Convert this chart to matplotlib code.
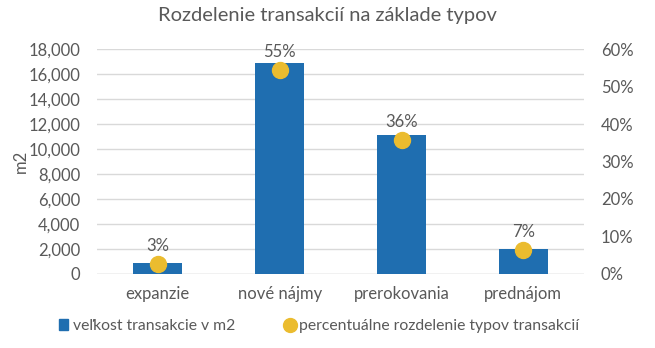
import matplotlib.pyplot as plt
from matplotlib.ticker import FuncFormatter, PercentFormatter
from matplotlib.lines import Line2D
from matplotlib.patches import Patch

categories = ["expanzie", "nové nájmy", "prerokovania", "prednájom"]
size_m2 = [880, 16900, 11100, 2030]
share = [0.027, 0.545, 0.358, 0.065]
share_labels = ["3%", "55%", "36%", "7%"]

plt.rcParams['font.family'] = ['Lato', 'DejaVu Sans']
txt = "#595959"
blue = "#1F6EB0"
yellow = "#EBBC2F"
fs = 12

fig = plt.figure(figsize=(6.55, 3.48), dpi=100)
ax = fig.add_axes([0.148, 0.213, 0.744, 0.646])
ax2 = ax.twinx()

x = range(len(categories))
ax.bar(x, size_m2, width=0.4, color=blue, zorder=2)
ax.set_ylim(0, 18000)
ax.set_yticks(range(0, 18001, 2000))
ax.yaxis.set_major_formatter(FuncFormatter(lambda v, p: f"{int(v):,}"))
ax.set_xlim(-0.5, 3.5)
ax.set_xticks(list(x))
ax.set_xticklabels(categories)
ax.grid(axis="y", color="#D9D9D9", lw=1, zorder=0)
ax.set_ylabel("m2", color=txt, fontsize=fs, labelpad=0)

ax2.plot(x, share, "o", ms=11.5, color=yellow, zorder=3)
ax2.set_ylim(0, 0.6)
ax2.set_yticks([i / 10 for i in range(7)])
ax2.yaxis.set_major_formatter(PercentFormatter(1.0, decimals=0))
for i, (s, lab) in enumerate(zip(share, share_labels)):
    ax2.annotate(lab, (i, s), xytext=(0, 7), textcoords="offset points",
                 ha="center", va="bottom", color=txt, fontsize=fs)

for a in (ax, ax2):
    for sp in a.spines.values():
        sp.set_visible(False)
    a.tick_params(length=0, colors=txt, labelsize=fs)
ax.tick_params(axis="y", pad=12)
ax2.tick_params(axis="y", pad=12)
ax.tick_params(axis="x", pad=9)
ax.axhline(0, color="#D9D9D9", lw=1, zorder=1)

fig.suptitle("Rozdelenie transakcií na základe typov", x=0.5, y=0.98,
             color=txt, fontsize=14.5)

handles = [Patch(color=blue, label="veľkost transakcie v m2"),
           Line2D([], [], marker="o", ls="", color=yellow, ms=10,
                  label="percentuálne rozdelenie typov transakcií")]
fig.legend(handles=handles, loc="center", bbox_to_anchor=(0.487, 0.062), ncol=2,
           frameon=False, fontsize=11.3, labelcolor=txt, handlelength=0.6,
           handletextpad=0.3, columnspacing=3.2)

fig.savefig("out.png", dpi=100)
